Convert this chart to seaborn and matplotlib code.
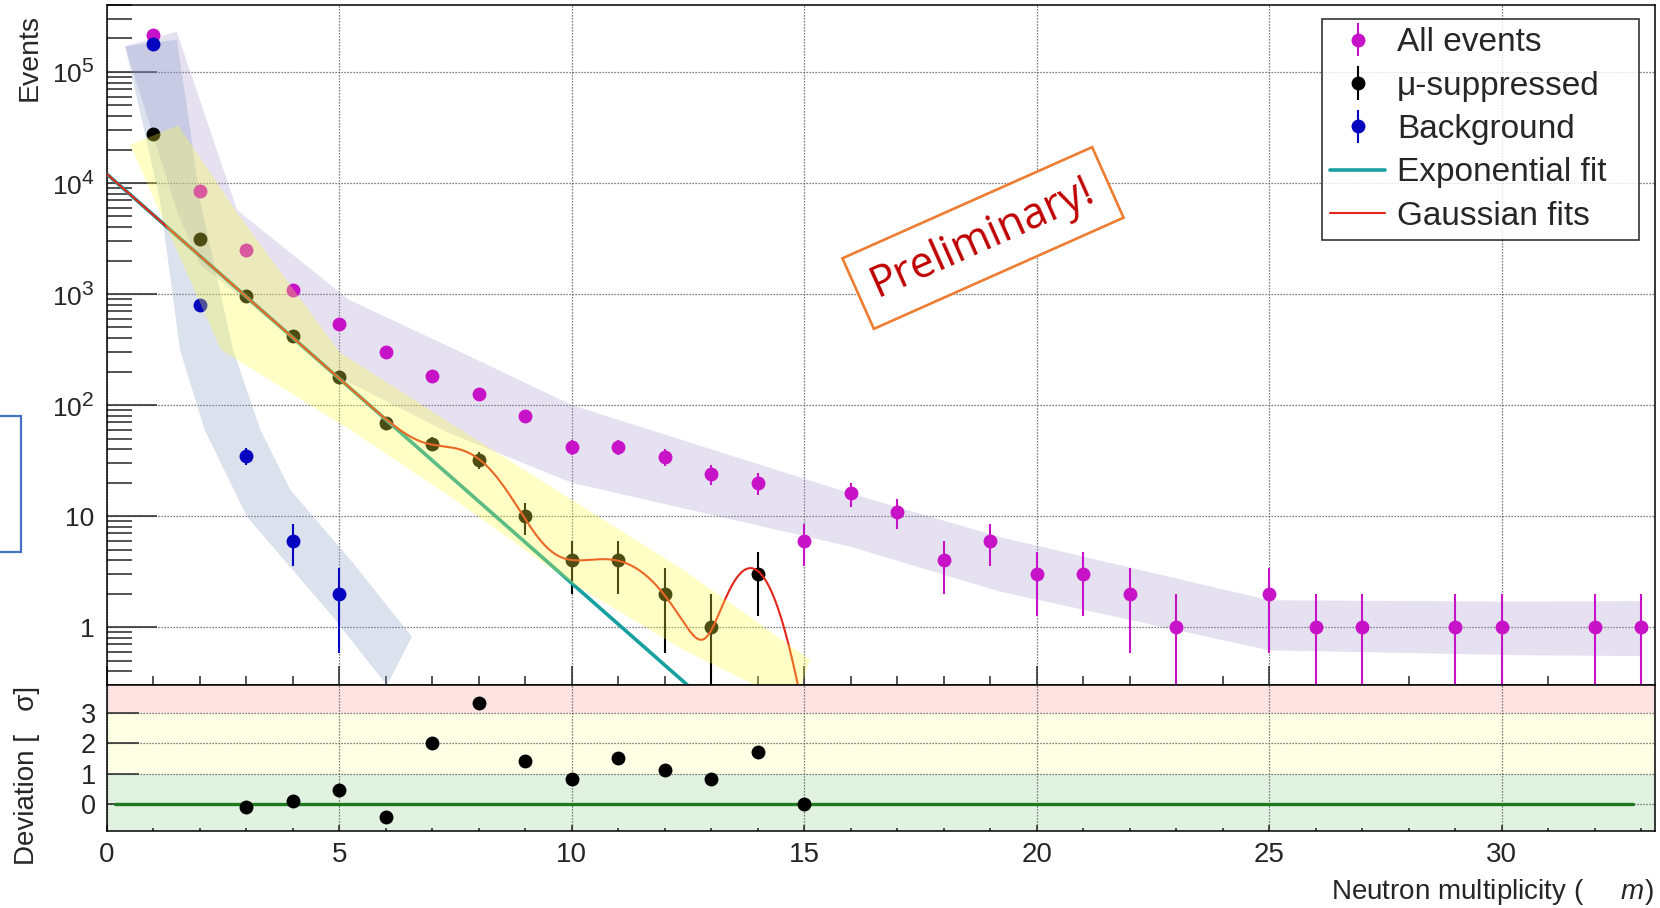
import numpy as np
import pandas as pd
import matplotlib
matplotlib.use("Agg")
import matplotlib.pyplot as plt
import seaborn as sns
from matplotlib.ticker import MultipleLocator, LogLocator, NullFormatter
from matplotlib.patches import Rectangle

try:
    # larger exponents on the log axis labels
    import matplotlib._mathtext as _mathtext
    _mathtext.SHRINK_FACTOR = 0.8
except Exception:
    pass

# ---------------- data ----------------
# neutron multiplicity bins and event counts
mult_all = [1, 2, 3, 4, 5, 6, 7, 8, 9, 10, 11, 12, 13, 14, 15, 16, 17, 18, 19, 20,
            21, 22, 23, 25, 26, 27, 29, 30, 32, 33]
events_all = [217000, 8400, 2500, 1080, 540, 298, 181, 126, 79, 42, 42, 34, 24, 20, 6,
              16, 11, 4, 6, 3, 3, 2, 1, 2, 1, 1, 1, 1, 1, 1]

mult_mu = [1, 2, 3, 4, 5, 6, 7, 8, 9, 10, 11, 12, 13, 14]
events_mu = [27400, 3130, 950, 415, 180, 69, 45, 32, 10, 4, 4, 2, 1, 3]

mult_bkg = [1, 2, 3, 4, 5]
events_bkg = [179000, 800, 35, 6, 2]

# deviation of the mu-suppressed data from the exponential fit, in sigma
dev_mult = [3, 4, 5, 6, 7, 8, 9, 10, 11, 12, 13, 14, 15]
dev_sigma = [-0.09, 0.11, 0.46, -0.44, 2.0, 3.33, 1.41, 0.82, 1.51, 1.13, 0.82, 1.72, 0.0]

# exponential fit  N(m) = A * 10^(-k m)
exp_amp = 1.2e4
exp_slope = 0.3684
exp_range = [0.0, 15.0]
# gaussian components on top of the exponential: amplitude, mean, sigma
gauss_amp = [21.0, 2.9, 3.3]
gauss_mean = [7.7, 11.0, 13.85]
gauss_width = [0.68, 0.86, 0.45]
gauss_range = [0.0, 15.1]
zero_line_range = [0.17, 32.83]

# highlighted trend bands (outline in data units: multiplicity, events)
band_all_m = [1.5, 2.8, 5.2, 7.4, 10.0, 16.0, 19.2, 25.0, 30.4, 33.0,
              33.0, 30.4, 25.0, 19.2, 16.0, 10.0, 7.4, 5.2, 2.0, 1.53, 0.39]
band_all_n = [2.3e5, 5700, 890, 330, 100, 16, 6.5, 1.75, 1.7, 1.72,
              0.55, 0.56, 0.62, 2.1, 5.3, 20, 55, 160, 1850, 5200, 1.7e5]
band_bkg_m = [1.5, 1.75, 2.0, 2.71, 3.3, 3.94, 5.29, 6.56,
              6.02, 4.86, 3.01, 2.1, 1.57, 1.14, 0.39]
band_bkg_n = [1.95e5, 4.0e4, 7000, 315, 60, 17.3, 3.8, 0.82,
              0.3, 1.24, 9.9, 60, 315, 7000, 1.7e5]
band_mu_m = [1.53, 2.8, 5.0, 7.38, 10.0, 12.39, 15.12,
             14.8, 12.39, 10.0, 7.38, 5.23, 2.45, 0.5]
band_mu_n = [33000, 5400, 300, 69, 14, 3.3, 0.51,
             0.2, 0.63, 2.5, 15, 60, 315, 22000]

y_tick_values = [1, 10, 1e2, 1e3, 1e4, 1e5]
y_tick_labels = ["1", "10", "$10^{2}$", "$10^{3}$", "$10^{4}$", "$10^{5}$"]
dev_tick_values = [0, 1, 2, 3]
dev_bands = [1, 3]

legend_labels = ["All events", "\u03bc-suppressed", "Background",
                 "Exponential fit", "Gaussian fits"]

# ---------------- style ----------------
sns.set_theme(style="white")
plt.rcParams["font.family"] = ["Liberation Sans", "DejaVu Sans"]
plt.rcParams["mathtext.fontset"] = "custom"
plt.rcParams["mathtext.rm"] = "Liberation Sans"
plt.rcParams["mathtext.it"] = "Liberation Sans:italic"
plt.rcParams["mathtext.bf"] = "Liberation Sans:bold"

c_all = "#c812c8"
c_mu = "#000000"
c_bkg = "#0505c0"
c_exp = "#17a0a0"
c_gau = "#e3261a"
grid_kw = dict(color="#555555", linestyle=(0, (1, 1.4)), linewidth=0.9)

fig = plt.figure(figsize=(16.6, 9.08), dpi=100)
ax = fig.add_axes([107 / 1660, 1 - 685 / 908, 1548 / 1660, 680 / 908])
axd = fig.add_axes([107 / 1660, 1 - 831 / 908, 1548 / 1660, 146 / 908], sharex=ax)


def poisson_err(vals):
    v = np.asarray(vals, dtype=float)
    e = np.sqrt(v)
    lo = np.minimum(e, v - 1e-3)
    return np.vstack([lo, e])


eb_kw = dict(fmt="o", markersize=10, elinewidth=1.5, capsize=4.2, capthick=1.4,
             markeredgewidth=0, zorder=3)
eb_all = ax.errorbar(mult_all, events_all, yerr=poisson_err(events_all), color=c_all, **eb_kw)
eb_mu = ax.errorbar(mult_mu, events_mu, yerr=poisson_err(events_mu), color=c_mu, **eb_kw)
eb_bkg = ax.errorbar(mult_bkg, events_bkg, yerr=poisson_err(events_bkg), color=c_bkg, **eb_kw)

# fit curves
m_exp = np.linspace(exp_range[0], exp_range[1], 400)
exp_curve = exp_amp * 10 ** (-exp_slope * m_exp)
m_gau = np.linspace(gauss_range[0], gauss_range[1], 800)
gau_curve = exp_amp * 10 ** (-exp_slope * m_gau)
for a, mu, s in zip(gauss_amp, gauss_mean, gauss_width):
    gau_curve = gau_curve + a * np.exp(-(m_gau - mu) ** 2 / (2 * s ** 2))

fits = pd.DataFrame({"m": m_exp, "n": exp_curve})
sns.lineplot(data=fits, x="m", y="n", ax=ax, color=c_exp, linewidth=2.6, zorder=4)
line_exp = ax.get_lines()[-1]
gfits = pd.DataFrame({"m": m_gau, "n": gau_curve})
sns.lineplot(data=gfits, x="m", y="n", ax=ax, color=c_gau, linewidth=1.5, zorder=4.2)
line_gau = ax.get_lines()[-1]

# trend bands: the two wide ones behind the data, the yellow one on top
ax.fill(band_all_m, band_all_n, color="#9b88c8", alpha=0.25, lw=0, zorder=1)
ax.fill(band_bkg_m, band_bkg_n, color="#7f95c0", alpha=0.28, lw=0, zorder=1.1)
ax.fill(band_mu_m, band_mu_n, color="#ffff40", alpha=0.30, lw=0, zorder=6)

ax.set_yscale("log")
ax.set_ylim(0.302, 4.0e5)
ax.set_xlim(0, 33.3)
ax.set_yticks(y_tick_values, y_tick_labels)
ax.yaxis.set_minor_locator(LogLocator(base=10, subs=np.arange(2, 10), numticks=20))
ax.yaxis.set_minor_formatter(NullFormatter())
ax.xaxis.set_major_locator(MultipleLocator(5))
ax.xaxis.set_minor_locator(MultipleLocator(1))
ax.set_axisbelow(True)
ax.grid(True, which="major", **grid_kw)
ax.tick_params(axis="y", which="major", direction="in", length=36, width=1.1,
               labelsize=19, pad=9, left=True, right=False)
ax.tick_params(axis="y", which="minor", direction="in", length=18, width=1.1,
               left=True, right=False)
ax.tick_params(axis="x", which="major", direction="in", length=14, width=1.1,
               labelbottom=False, bottom=True, top=False)
ax.tick_params(axis="x", which="minor", direction="in", length=6.5, width=1.1,
               bottom=True, top=False)
ax.set_xlabel("")
ax.set_ylabel("")
for sp in ax.spines.values():
    sp.set_linewidth(1.1)
    sp.set_color("black")

# ---------------- deviation panel ----------------
axd.axhspan(-10, dev_bands[0], color="#e1f2e1", lw=0, zorder=0)
axd.axhspan(dev_bands[0], dev_bands[1], color="#ffffe6", lw=0, zorder=0)
axd.axhspan(dev_bands[1], 10, color="#fde2e2", lw=0, zorder=0)
zero = pd.DataFrame({"m": zero_line_range, "d": [0.0, 0.0]})
sns.lineplot(data=zero, x="m", y="d", ax=axd, color="#1f7a1f", linewidth=2.4, zorder=2)
dev = pd.DataFrame({"m": dev_mult, "d": dev_sigma})
sns.scatterplot(data=dev, x="m", y="d", ax=axd, color="black", s=100, linewidth=0, zorder=3)
axd.set_ylim(-0.89, 3.91)
axd.set_yticks(dev_tick_values)
axd.set_axisbelow(True)
axd.grid(True, which="major", **grid_kw)
axd.tick_params(axis="y", which="major", direction="in", length=23, width=1.1,
                labelsize=19.5, pad=8, left=True, right=False)
axd.tick_params(axis="x", which="major", direction="in", length=4, width=1.1,
                labelsize=20, pad=8, bottom=True, top=False)
axd.tick_params(axis="x", which="minor", direction="in", length=2.5, width=1.1,
                bottom=True, top=False)
axd.set_xlabel("")
axd.set_ylabel("")
for sp in axd.spines.values():
    sp.set_linewidth(1.1)
    sp.set_color("black")

# ---------------- titles, legend, stamp ----------------
fig.text(30 / 1660, 1 - 14 / 908, "Events", rotation=90, ha="center", va="top", fontsize=20.5)
fig.text(27 / 1660, 1 - 686 / 908, "Deviation [   \u03c3]", rotation=90, ha="center",
         va="top", fontsize=20)
fig.text(1654 / 1660, 1 - 899 / 908, "Neutron multiplicity (     $m$)", ha="right",
         va="baseline", fontsize=20)

leg = ax.legend(handles=[eb_all, eb_mu, eb_bkg, line_exp, line_gau], labels=legend_labels,
                loc="upper left", bbox_to_anchor=(0.7849, 0.0, 0.2048, 0.9794),
                mode="expand", borderaxespad=0,
                frameon=True, fancybox=False, fontsize=24, borderpad=0.25,
                labelspacing=0.37, handlelength=1.65, handletextpad=0.35)
leg.get_frame().set_edgecolor("black")
leg.get_frame().set_linewidth(1.2)
leg.set_zorder(10)

fig.text(983 / 1660, 1 - 238 / 908, "Preliminary!", rotation=24, rotation_mode="anchor",
         ha="center", va="center", fontsize=31, color="#c00000",
         family=["Open Sans", "DejaVu Sans"],
         bbox=dict(boxstyle="square,pad=0.38", fc="white", ec="#ed7d31", lw=1.9))

fig.patches.append(Rectangle((-5 / 1660, 1 - 552 / 908), 26 / 1660, 136 / 908,
                             transform=fig.transFigure, fill=False, ec="#4472c4",
                             lw=1.6, clip_on=False))

fig.savefig("out.png", dpi=100)
